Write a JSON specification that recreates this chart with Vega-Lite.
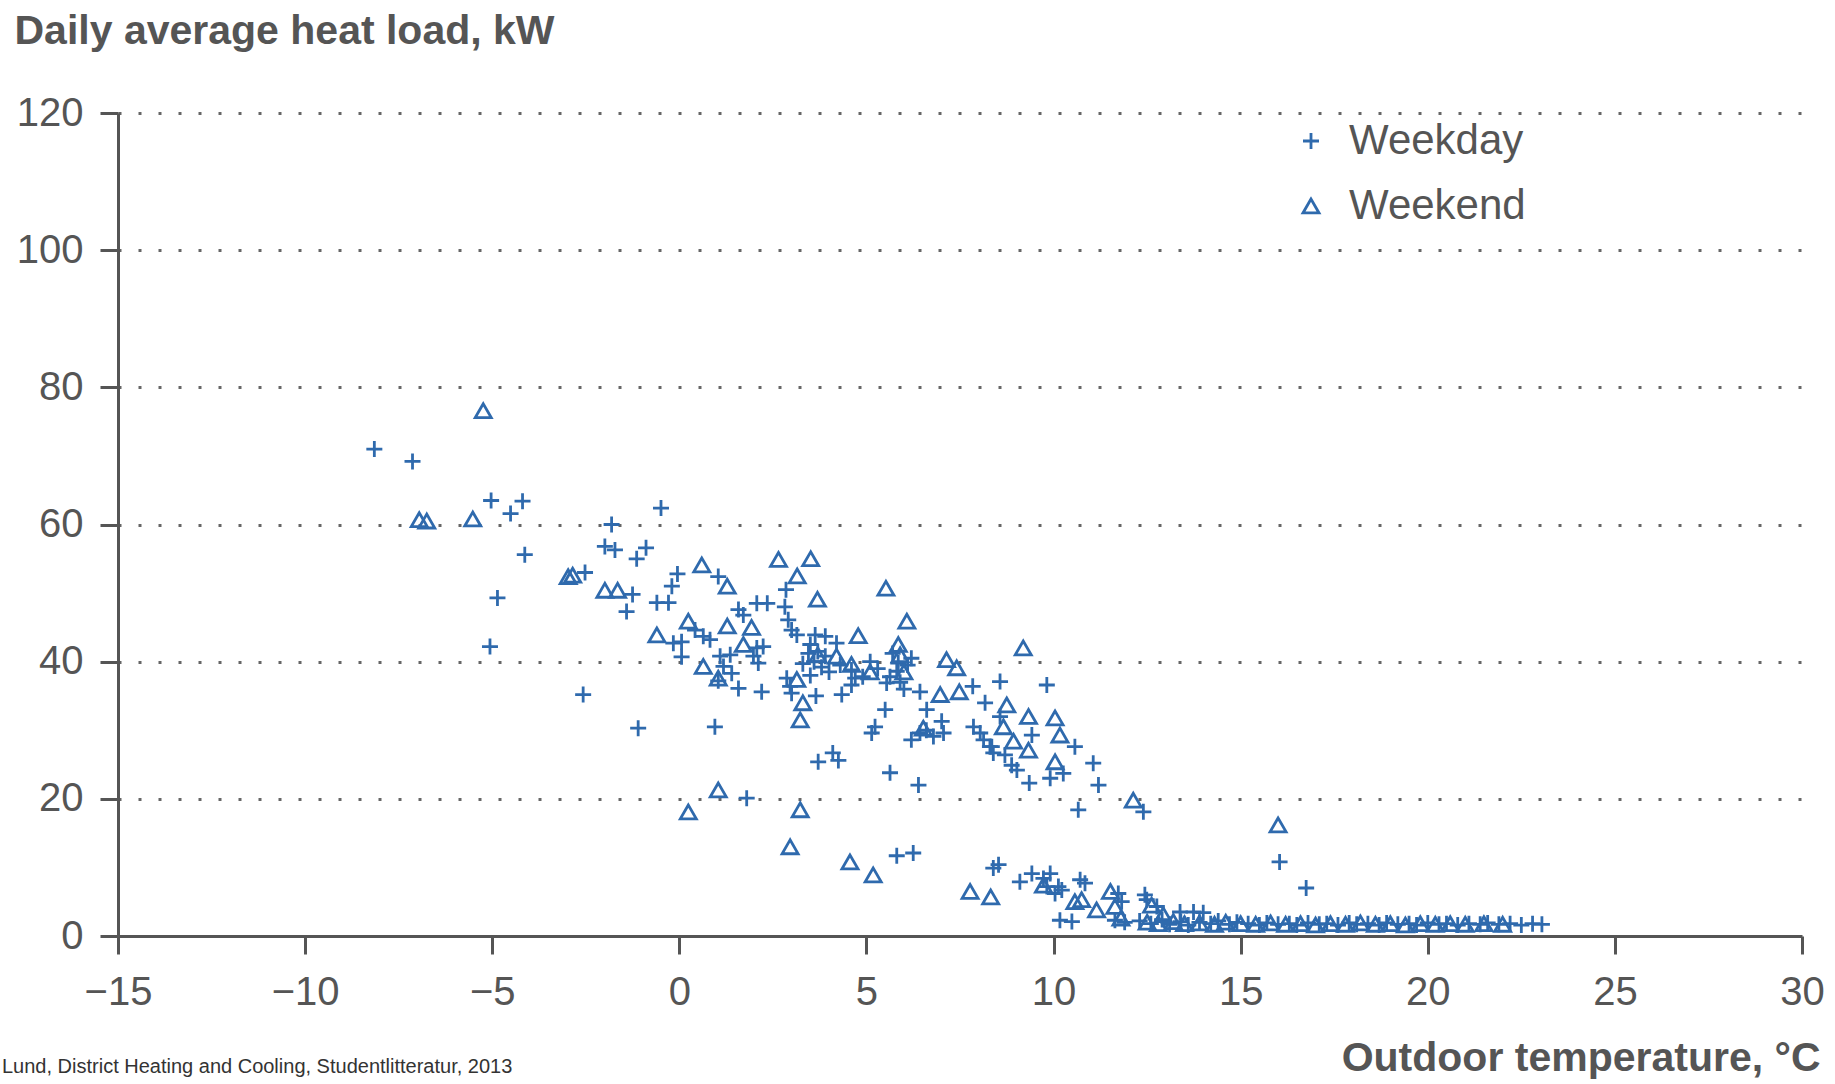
{
  "$schema": "https://vega.github.io/schema/vega-lite/v6.json",
  "width": 1684,
  "height": 823,
  "autosize": "none",
  "padding": {"left": 118, "top": 113, "right": 33, "bottom": 148},
  "background": "white",
  "config": {"view": {"stroke": null}},
  "title": {"text": "Lund, District Heating and Cooling, Studentlitteratur, 2013", "orient": "bottom", "anchor": "start", "frame": "group", "dx": -116, "dy": -21, "offset": 0, "baseline": "top", "font": "Liberation Sans, sans-serif", "fontSize": 20, "fontWeight": "normal", "color": "#333"},
  "datasets": {
    "pts": [
      {"t": -8.15, "q": 71.0, "d": "Weekday"}, {"t": -7.13, "q": 69.2, "d": "Weekday"}, {"t": -5.03, "q": 63.5, "d": "Weekday"}, {"t": -4.19, "q": 63.4, "d": "Weekday"},
      {"t": -4.51, "q": 61.6, "d": "Weekday"}, {"t": -4.13, "q": 55.6, "d": "Weekday"}, {"t": -4.86, "q": 49.3, "d": "Weekday"}, {"t": -5.06, "q": 42.2, "d": "Weekday"},
      {"t": -2.57, "q": 35.2, "d": "Weekday"}, {"t": -1.1, "q": 30.3, "d": "Weekday"}, {"t": -0.49, "q": 62.4, "d": "Weekday"}, {"t": -1.81, "q": 60.0, "d": "Weekday"},
      {"t": -1.99, "q": 56.8, "d": "Weekday"}, {"t": -1.72, "q": 56.3, "d": "Weekday"}, {"t": -0.89, "q": 56.6, "d": "Weekday"}, {"t": -1.14, "q": 55.0, "d": "Weekday"},
      {"t": -2.52, "q": 53.0, "d": "Weekday"}, {"t": -1.25, "q": 49.8, "d": "Weekday"}, {"t": -1.41, "q": 47.3, "d": "Weekday"}, {"t": -0.05, "q": 52.8, "d": "Weekday"},
      {"t": -0.2, "q": 51.0, "d": "Weekday"}, {"t": -0.6, "q": 48.6, "d": "Weekday"}, {"t": -0.29, "q": 48.6, "d": "Weekday"}, {"t": -0.16, "q": 42.7, "d": "Weekday"},
      {"t": 0.06, "q": 42.9, "d": "Weekday"}, {"t": 0.06, "q": 40.7, "d": "Weekday"}, {"t": 1.04, "q": 52.4, "d": "Weekday"}, {"t": 2.85, "q": 50.5, "d": "Weekday"},
      {"t": 2.07, "q": 48.5, "d": "Weekday"}, {"t": 2.35, "q": 48.5, "d": "Weekday"}, {"t": 2.82, "q": 48.0, "d": "Weekday"}, {"t": 1.58, "q": 47.6, "d": "Weekday"},
      {"t": 1.71, "q": 46.8, "d": "Weekday"}, {"t": 2.91, "q": 46.1, "d": "Weekday"}, {"t": 3.0, "q": 44.6, "d": "Weekday"}, {"t": 3.14, "q": 43.9, "d": "Weekday"},
      {"t": 3.63, "q": 43.9, "d": "Weekday"}, {"t": 3.9, "q": 43.7, "d": "Weekday"}, {"t": 0.42, "q": 44.6, "d": "Weekday"}, {"t": 0.64, "q": 43.7, "d": "Weekday"},
      {"t": 0.82, "q": 43.2, "d": "Weekday"}, {"t": 2.07, "q": 42.0, "d": "Weekday"}, {"t": 2.24, "q": 42.2, "d": "Weekday"}, {"t": 1.98, "q": 40.8, "d": "Weekday"},
      {"t": 2.11, "q": 39.8, "d": "Weekday"}, {"t": 4.2, "q": 42.7, "d": "Weekday"}, {"t": 1.09, "q": 40.8, "d": "Weekday"}, {"t": 1.36, "q": 41.0, "d": "Weekday"},
      {"t": 1.18, "q": 39.3, "d": "Weekday"}, {"t": 1.4, "q": 38.3, "d": "Weekday"}, {"t": 1.04, "q": 37.2, "d": "Weekday"}, {"t": 1.58, "q": 36.1, "d": "Weekday"},
      {"t": 2.2, "q": 35.6, "d": "Weekday"}, {"t": 2.87, "q": 37.6, "d": "Weekday"}, {"t": 2.96, "q": 36.4, "d": "Weekday"}, {"t": 3.0, "q": 35.4, "d": "Weekday"},
      {"t": 3.65, "q": 35.0, "d": "Weekday"}, {"t": 4.34, "q": 35.2, "d": "Weekday"}, {"t": 3.5, "q": 42.5, "d": "Weekday"}, {"t": 3.7, "q": 41.5, "d": "Weekday"},
      {"t": 3.9, "q": 40.8, "d": "Weekday"}, {"t": 3.6, "q": 40.0, "d": "Weekday"}, {"t": 3.8, "q": 39.2, "d": "Weekday"}, {"t": 4.0, "q": 38.5, "d": "Weekday"},
      {"t": 3.5, "q": 38.0, "d": "Weekday"}, {"t": 4.3, "q": 39.5, "d": "Weekday"}, {"t": 3.3, "q": 39.7, "d": "Weekday"}, {"t": 3.45, "q": 41.2, "d": "Weekday"},
      {"t": 4.6, "q": 38.8, "d": "Weekday"}, {"t": 4.7, "q": 37.6, "d": "Weekday"}, {"t": 4.6, "q": 36.6, "d": "Weekday"}, {"t": 4.9, "q": 37.8, "d": "Weekday"},
      {"t": 5.1, "q": 40.0, "d": "Weekday"}, {"t": 5.3, "q": 39.0, "d": "Weekday"}, {"t": 5.54, "q": 36.9, "d": "Weekday"}, {"t": 5.63, "q": 37.8, "d": "Weekday"},
      {"t": 5.81, "q": 38.6, "d": "Weekday"}, {"t": 5.85, "q": 39.8, "d": "Weekday"}, {"t": 5.9, "q": 37.0, "d": "Weekday"}, {"t": 6.0, "q": 36.0, "d": "Weekday"},
      {"t": 6.1, "q": 39.5, "d": "Weekday"}, {"t": 6.2, "q": 40.5, "d": "Weekday"}, {"t": 5.7, "q": 41.2, "d": "Weekday"}, {"t": 6.43, "q": 35.6, "d": "Weekday"},
      {"t": 7.84, "q": 36.4, "d": "Weekday"}, {"t": 8.57, "q": 37.1, "d": "Weekday"}, {"t": 6.61, "q": 33.0, "d": "Weekday"}, {"t": 5.5, "q": 33.0, "d": "Weekday"},
      {"t": 5.23, "q": 30.5, "d": "Weekday"}, {"t": 5.14, "q": 29.6, "d": "Weekday"}, {"t": 0.95, "q": 30.5, "d": "Weekday"}, {"t": 6.2, "q": 28.6, "d": "Weekday"},
      {"t": 6.43, "q": 29.6, "d": "Weekday"}, {"t": 6.79, "q": 29.1, "d": "Weekday"}, {"t": 7.06, "q": 29.6, "d": "Weekday"}, {"t": 7.01, "q": 31.3, "d": "Weekday"},
      {"t": 6.6, "q": 30.0, "d": "Weekday"}, {"t": 7.86, "q": 30.5, "d": "Weekday"}, {"t": 8.04, "q": 29.6, "d": "Weekday"}, {"t": 8.13, "q": 28.6, "d": "Weekday"},
      {"t": 8.3, "q": 27.6, "d": "Weekday"}, {"t": 8.39, "q": 26.7, "d": "Weekday"}, {"t": 8.17, "q": 34.0, "d": "Weekday"}, {"t": 9.82, "q": 36.6, "d": "Weekday"},
      {"t": 8.57, "q": 32.0, "d": "Weekday"}, {"t": 9.42, "q": 29.3, "d": "Weekday"}, {"t": 8.35, "q": 27.6, "d": "Weekday"}, {"t": 8.7, "q": 26.4, "d": "Weekday"},
      {"t": 8.88, "q": 24.9, "d": "Weekday"}, {"t": 9.02, "q": 24.2, "d": "Weekday"}, {"t": 10.57, "q": 27.6, "d": "Weekday"}, {"t": 9.91, "q": 23.0, "d": "Weekday"},
      {"t": 10.26, "q": 23.7, "d": "Weekday"}, {"t": 9.35, "q": 22.3, "d": "Weekday"}, {"t": 11.06, "q": 25.2, "d": "Weekday"}, {"t": 11.2, "q": 22.0, "d": "Weekday"},
      {"t": 10.66, "q": 18.4, "d": "Weekday"}, {"t": 12.4, "q": 18.1, "d": "Weekday"}, {"t": 3.71, "q": 25.4, "d": "Weekday"}, {"t": 4.1, "q": 26.7, "d": "Weekday"},
      {"t": 4.25, "q": 25.6, "d": "Weekday"}, {"t": 5.63, "q": 23.8, "d": "Weekday"}, {"t": 6.39, "q": 22.0, "d": "Weekday"}, {"t": 1.8, "q": 20.1, "d": "Weekday"},
      {"t": 5.81, "q": 11.7, "d": "Weekday"}, {"t": 6.25, "q": 12.1, "d": "Weekday"}, {"t": 8.39, "q": 9.9, "d": "Weekday"}, {"t": 8.53, "q": 10.4, "d": "Weekday"},
      {"t": 9.1, "q": 7.9, "d": "Weekday"}, {"t": 9.42, "q": 9.1, "d": "Weekday"}, {"t": 9.73, "q": 8.4, "d": "Weekday"}, {"t": 9.91, "q": 9.1, "d": "Weekday"},
      {"t": 9.82, "q": 7.2, "d": "Weekday"}, {"t": 10.04, "q": 6.2, "d": "Weekday"}, {"t": 10.13, "q": 7.2, "d": "Weekday"}, {"t": 10.22, "q": 6.7, "d": "Weekday"},
      {"t": 10.71, "q": 8.2, "d": "Weekday"}, {"t": 10.84, "q": 7.7, "d": "Weekday"}, {"t": 10.17, "q": 2.3, "d": "Weekday"}, {"t": 10.49, "q": 2.1, "d": "Weekday"},
      {"t": 11.73, "q": 6.2, "d": "Weekday"}, {"t": 11.82, "q": 5.0, "d": "Weekday"}, {"t": 11.64, "q": 2.3, "d": "Weekday"}, {"t": 11.9, "q": 2.0, "d": "Weekday"},
      {"t": 12.44, "q": 6.0, "d": "Weekday"}, {"t": 12.49, "q": 5.3, "d": "Weekday"}, {"t": 12.76, "q": 4.3, "d": "Weekday"}, {"t": 13.38, "q": 3.5, "d": "Weekday"},
      {"t": 13.74, "q": 3.5, "d": "Weekday"}, {"t": 14.0, "q": 3.4, "d": "Weekday"}, {"t": 16.04, "q": 10.8, "d": "Weekday"}, {"t": 16.75, "q": 7.0, "d": "Weekday"},
      {"t": 12.3, "q": 2.2, "d": "Weekday"}, {"t": 12.6, "q": 1.8, "d": "Weekday"}, {"t": 12.9, "q": 2.4, "d": "Weekday"}, {"t": 13.1, "q": 1.7, "d": "Weekday"},
      {"t": 13.4, "q": 2.1, "d": "Weekday"}, {"t": 13.6, "q": 1.6, "d": "Weekday"}, {"t": 13.9, "q": 2.0, "d": "Weekday"}, {"t": 14.2, "q": 1.8, "d": "Weekday"},
      {"t": 14.4, "q": 2.2, "d": "Weekday"}, {"t": 14.7, "q": 1.7, "d": "Weekday"}, {"t": 14.9, "q": 2.0, "d": "Weekday"}, {"t": 15.2, "q": 1.8, "d": "Weekday"},
      {"t": 15.5, "q": 1.6, "d": "Weekday"}, {"t": 15.7, "q": 1.9, "d": "Weekday"}, {"t": 16.0, "q": 1.7, "d": "Weekday"}, {"t": 16.3, "q": 1.8, "d": "Weekday"},
      {"t": 16.5, "q": 1.6, "d": "Weekday"}, {"t": 16.8, "q": 1.9, "d": "Weekday"}, {"t": 17.1, "q": 1.7, "d": "Weekday"}, {"t": 17.3, "q": 1.8, "d": "Weekday"},
      {"t": 17.6, "q": 1.6, "d": "Weekday"}, {"t": 17.9, "q": 1.9, "d": "Weekday"}, {"t": 18.1, "q": 1.7, "d": "Weekday"}, {"t": 18.4, "q": 1.8, "d": "Weekday"},
      {"t": 18.7, "q": 1.6, "d": "Weekday"}, {"t": 18.9, "q": 1.9, "d": "Weekday"}, {"t": 19.2, "q": 1.7, "d": "Weekday"}, {"t": 19.5, "q": 1.8, "d": "Weekday"},
      {"t": 19.7, "q": 1.6, "d": "Weekday"}, {"t": 20.0, "q": 1.9, "d": "Weekday"}, {"t": 20.3, "q": 1.7, "d": "Weekday"}, {"t": 20.5, "q": 1.8, "d": "Weekday"},
      {"t": 20.8, "q": 1.6, "d": "Weekday"}, {"t": 21.1, "q": 1.8, "d": "Weekday"}, {"t": 21.4, "q": 1.7, "d": "Weekday"}, {"t": 21.6, "q": 1.9, "d": "Weekday"},
      {"t": 21.9, "q": 1.7, "d": "Weekday"}, {"t": 22.2, "q": 1.8, "d": "Weekday"}, {"t": 22.5, "q": 1.6, "d": "Weekday"}, {"t": 22.8, "q": 1.8, "d": "Weekday"},
      {"t": 23.05, "q": 1.7, "d": "Weekday"},
      {"t": -5.24, "q": 76.6, "d": "Weekend"}, {"t": -6.95, "q": 60.7, "d": "Weekend"}, {"t": -6.75, "q": 60.5, "d": "Weekend"}, {"t": -5.52, "q": 60.8, "d": "Weekend"},
      {"t": -2.97, "q": 52.4, "d": "Weekend"}, {"t": -2.85, "q": 52.6, "d": "Weekend"}, {"t": -1.99, "q": 50.4, "d": "Weekend"}, {"t": -1.65, "q": 50.4, "d": "Weekend"},
      {"t": 0.24, "q": 45.9, "d": "Weekend"}, {"t": -0.6, "q": 43.9, "d": "Weekend"}, {"t": 0.6, "q": 54.1, "d": "Weekend"}, {"t": 1.28, "q": 51.0, "d": "Weekend"},
      {"t": 2.65, "q": 54.9, "d": "Weekend"}, {"t": 3.51, "q": 55.0, "d": "Weekend"}, {"t": 3.15, "q": 52.5, "d": "Weekend"}, {"t": 3.69, "q": 49.1, "d": "Weekend"},
      {"t": 5.52, "q": 50.7, "d": "Weekend"}, {"t": 1.93, "q": 45.0, "d": "Weekend"}, {"t": 1.28, "q": 45.2, "d": "Weekend"}, {"t": 6.08, "q": 45.9, "d": "Weekend"},
      {"t": 4.78, "q": 43.8, "d": "Weekend"}, {"t": 1.71, "q": 42.5, "d": "Weekend"}, {"t": 5.85, "q": 42.5, "d": "Weekend"}, {"t": 4.2, "q": 40.8, "d": "Weekend"},
      {"t": 0.64, "q": 39.3, "d": "Weekend"}, {"t": 1.04, "q": 37.6, "d": "Weekend"}, {"t": 3.14, "q": 37.4, "d": "Weekend"}, {"t": 3.3, "q": 34.0, "d": "Weekend"},
      {"t": 3.23, "q": 31.5, "d": "Weekend"}, {"t": 3.7, "q": 41.0, "d": "Weekend"}, {"t": 5.1, "q": 38.5, "d": "Weekend"}, {"t": 4.6, "q": 39.6, "d": "Weekend"},
      {"t": 5.9, "q": 41.0, "d": "Weekend"}, {"t": 6.0, "q": 38.5, "d": "Weekend"}, {"t": 6.97, "q": 35.2, "d": "Weekend"}, {"t": 7.48, "q": 35.6, "d": "Weekend"},
      {"t": 7.14, "q": 40.3, "d": "Weekend"}, {"t": 7.41, "q": 39.1, "d": "Weekend"}, {"t": 6.52, "q": 30.3, "d": "Weekend"}, {"t": 9.19, "q": 42.0, "d": "Weekend"},
      {"t": 8.75, "q": 33.7, "d": "Weekend"}, {"t": 9.33, "q": 32.0, "d": "Weekend"}, {"t": 10.04, "q": 31.8, "d": "Weekend"}, {"t": 10.17, "q": 29.3, "d": "Weekend"},
      {"t": 8.66, "q": 30.5, "d": "Weekend"}, {"t": 8.93, "q": 28.4, "d": "Weekend"}, {"t": 9.33, "q": 27.1, "d": "Weekend"}, {"t": 10.04, "q": 25.4, "d": "Weekend"},
      {"t": 12.13, "q": 19.8, "d": "Weekend"}, {"t": 0.24, "q": 18.1, "d": "Weekend"}, {"t": 1.04, "q": 21.3, "d": "Weekend"}, {"t": 3.23, "q": 18.4, "d": "Weekend"},
      {"t": 2.96, "q": 13.0, "d": "Weekend"}, {"t": 4.56, "q": 10.8, "d": "Weekend"}, {"t": 5.18, "q": 8.9, "d": "Weekend"}, {"t": 7.77, "q": 6.5, "d": "Weekend"},
      {"t": 8.32, "q": 5.7, "d": "Weekend"}, {"t": 9.73, "q": 7.4, "d": "Weekend"}, {"t": 10.57, "q": 5.0, "d": "Weekend"}, {"t": 10.75, "q": 5.3, "d": "Weekend"},
      {"t": 11.15, "q": 3.8, "d": "Weekend"}, {"t": 11.52, "q": 6.5, "d": "Weekend"}, {"t": 11.64, "q": 4.3, "d": "Weekend"}, {"t": 12.62, "q": 4.5, "d": "Weekend"},
      {"t": 12.93, "q": 3.1, "d": "Weekend"}, {"t": 11.8, "q": 2.6, "d": "Weekend"}, {"t": 16.0, "q": 16.2, "d": "Weekend"},
      {"t": 12.5, "q": 2.0, "d": "Weekend"}, {"t": 12.8, "q": 1.8, "d": "Weekend"}, {"t": 13.2, "q": 2.1, "d": "Weekend"}, {"t": 13.5, "q": 1.8, "d": "Weekend"},
      {"t": 13.9, "q": 1.9, "d": "Weekend"}, {"t": 14.3, "q": 1.7, "d": "Weekend"}, {"t": 14.6, "q": 2.0, "d": "Weekend"}, {"t": 15.0, "q": 1.8, "d": "Weekend"},
      {"t": 15.4, "q": 1.7, "d": "Weekend"}, {"t": 15.8, "q": 1.9, "d": "Weekend"}, {"t": 16.2, "q": 1.7, "d": "Weekend"}, {"t": 16.6, "q": 1.8, "d": "Weekend"},
      {"t": 17.0, "q": 1.6, "d": "Weekend"}, {"t": 17.4, "q": 1.8, "d": "Weekend"}, {"t": 17.8, "q": 1.7, "d": "Weekend"}, {"t": 18.2, "q": 1.9, "d": "Weekend"},
      {"t": 18.6, "q": 1.7, "d": "Weekend"}, {"t": 19.0, "q": 1.8, "d": "Weekend"}, {"t": 19.4, "q": 1.6, "d": "Weekend"}, {"t": 19.8, "q": 1.8, "d": "Weekend"},
      {"t": 20.2, "q": 1.7, "d": "Weekend"}, {"t": 20.6, "q": 1.8, "d": "Weekend"}, {"t": 21.0, "q": 1.7, "d": "Weekend"}, {"t": 21.5, "q": 1.8, "d": "Weekend"},
      {"t": 22.0, "q": 1.7, "d": "Weekend"}
    ]
  },
  "data": {"name": "pts"},
  "mark": {"type": "point", "filled": false, "strokeWidth": 2.8, "size": 256, "opacity": 1, "color": "#2f6aad"},
  "encoding": {
    "x": {
      "field": "t", "type": "quantitative",
      "scale": {"domain": [-15, 30], "nice": false, "zero": false},
      "axis": {
        "title": "Outdoor temperature, °C",
        "values": [-15, -10, -5, 0, 5, 10, 15, 20, 25, 30],
        "grid": false,
        "domainColor": "#555", "domainWidth": 3,
        "tickColor": "#555", "tickWidth": 3, "tickSize": 18,
        "labelFont": "Liberation Sans Narrow, Liberation Sans, sans-serif", "labelFontSize": 40, "labelColor": "#555", "labelPadding": 18,
        "labelFlush": false,
        "titleFont": "Liberation Sans, sans-serif", "titleFontWeight": "bold", "titleFontSize": 41, "titleColor": "#555",
        "titleAngle": 0, "titleAlign": "right", "titleBaseline": "alphabetic", "titleX": 1702, "titleY": 134
      }
    },
    "y": {
      "field": "q", "type": "quantitative",
      "scale": {"domain": [0, 120], "nice": false},
      "axis": {
        "title": "Daily average heat load, kW",
        "values": [0, 20, 40, 60, 80, 100, 120],
        "grid": true, "gridColor": "#666", "gridWidth": 3, "gridDash": [3, 17],
        "domainColor": "#555", "domainWidth": 3,
        "tickColor": "#555", "tickWidth": 3, "tickSize": 18,
        "labelFont": "Liberation Sans Narrow, Liberation Sans, sans-serif", "labelFontSize": 40, "labelColor": "#555", "labelPadding": 17,
        "labelFlush": false,
        "titleFont": "Liberation Sans, sans-serif", "titleFontWeight": "bold", "titleFontSize": 41, "titleColor": "#555",
        "titleAngle": 0, "titleAlign": "left", "titleBaseline": "alphabetic", "titleX": -104, "titleY": -70
      }
    },
    "shape": {
      "field": "d", "type": "nominal",
      "scale": {"domain": ["Weekday", "Weekend"], "range": ["M-1,0L1,0M0,-1L0,1", "triangle-up"]},
      "legend": {
        "title": null, "orient": "none", "legendX": 1172, "legendY": 7,
        "labelFont": "Liberation Sans Narrow, Liberation Sans, sans-serif", "labelFontSize": 42, "labelColor": "#555",
        "labelOffset": 17, "rowPadding": 23, "labelLimit": 600,
        "symbolSize": 256, "symbolStrokeColor": "#2f6aad", "symbolFillColor": "transparent", "symbolStrokeWidth": 2.8
      }
    }
  }
}
